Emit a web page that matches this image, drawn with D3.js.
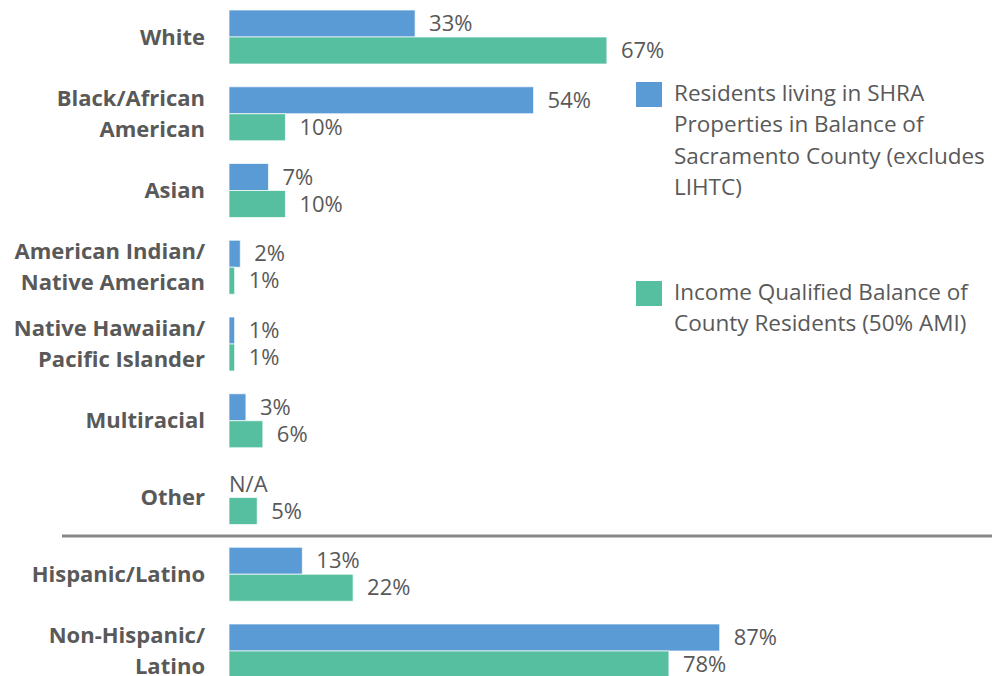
<!DOCTYPE html>
<html>
<head>
<meta charset="utf-8">
<script src="https://cdn.jsdelivr.net/npm/d3@7"></script>
<style>
  html, body { margin: 0; padding: 0; background: #ffffff; }
  svg { display: block; font-family: "Open Sans", "Noto Sans", sans-serif; }
</style>
</head>
<body>
<svg id="chart" width="992" height="676"></svg>
<script>
// Race / ethnicity groups, top to bottom (lines split with "|")
const categories = [
  "White",
  "Black/African|American",
  "Asian",
  "American Indian/|Native American",
  "Native Hawaiian/|Pacific Islander",
  "Multiracial",
  "Other",
  "Hispanic/Latino",
  "Non-Hispanic/|Latino"
];

// Share of each group, in percent (null = not available)
const shraResidents = [33, 54, 7, 2, 1, 3, null, 13, 87];
const incomeQualified = [67, 10, 10, 1, 1, 6, 5, 22, 78];

const seriesNames = [
  "Residents living in SHRA|Properties in Balance of|Sacramento County (excludes|LIHTC)",
  "Income Qualified Balance of|County Residents (50% AMI)"
];
const seriesColors = ["#5b9bd5", "#56bf9f"];

// Race groups end before this index; ethnicity groups follow the divider
const ethnicityStart = 7;

const svg = d3.select("#chart");
const textColor = "#595959";

const x = d3.scaleLinear().domain([0, 100]).range([229, 793]);

const step = 76.75, band = 54;
const pad = 1 - band / step;
const y = d3.scaleBand()
  .domain(d3.range(categories.length))
  .range([-1.375, -1.375 + step * categories.length])
  .paddingInner(pad)
  .paddingOuter(pad / 2);

const ySub = d3.scaleBand().domain([0, 1]).range([0, y.bandwidth()]);

const rows = categories.map((c, i) => ({
  label: c,
  values: [shraResidents[i], incomeQualified[i]]
}));

const groups = svg.append("g").selectAll("g.group")
  .data(rows)
  .join("g")
  .attr("class", "group")
  .attr("transform", (d, i) => `translate(0,${y(i)})`);

// Bars
groups.selectAll("rect")
  .data(d => d.values.map((v, s) => ({ v, s })).filter(e => e.v !== null))
  .join("rect")
  .attr("x", x(0))
  .attr("y", e => ySub(e.s))
  .attr("width", e => x(e.v) - x(0))
  .attr("height", ySub.bandwidth())
  .attr("fill", e => seriesColors[e.s])
  .attr("stroke", "#ffffff")
  .attr("stroke-opacity", 0.7)
  .attr("stroke-width", 1);

// Value labels
groups.selectAll("text.value")
  .data(d => d.values.map((v, s) => ({ v, s })))
  .join("text")
  .attr("class", "value")
  .attr("x", e => e.v === null ? x(0) : x(e.v) + 14)
  .attr("y", e => ySub(e.s) + ySub.bandwidth() / 2)
  .attr("dy", "0.35em")
  .attr("fill", textColor)
  .attr("font-size", 22)
  .text(e => e.v === null ? "N/A" : `${e.v}%`);

// Category labels
const lineH = 31;
groups.append("text")
  .attr("class", "cat")
  .attr("text-anchor", "end")
  .attr("fill", textColor)
  .attr("font-weight", 700)
  .attr("font-size", 22)
  .each(function (d) {
    const lines = d.label.split("|");
    const t = d3.select(this);
    lines.forEach((ln, k) => {
      t.append("tspan")
        .attr("x", 205)
        .attr("y", y.bandwidth() / 2 + (k - (lines.length - 1) / 2) * lineH)
        .attr("dy", "0.35em")
        .text(ln);
    });
  });

// Divider between race and ethnicity groups
const divY = (y(ethnicityStart - 1) + y.bandwidth() + y(ethnicityStart)) / 2;
svg.append("line")
  .attr("x1", 62).attr("x2", 992)
  .attr("y1", divY).attr("y2", divY)
  .attr("stroke", "#888888")
  .attr("stroke-width", 3);

// Legend
const legendTops = [82, 281];
const legend = svg.append("g").selectAll("g")
  .data(seriesNames)
  .join("g")
  .attr("transform", (d, i) => `translate(636,${legendTops[i]})`);

legend.append("rect")
  .attr("width", 26).attr("height", 25)
  .attr("fill", (d, i) => seriesColors[i]);

legend.append("text")
  .attr("fill", textColor)
  .attr("font-size", 22.5)
  .each(function (d) {
    const t = d3.select(this);
    d.split("|").forEach((ln, k) => {
      t.append("tspan")
        .attr("x", 38)
        .attr("y", 11 + k * 31.5)
        .attr("dy", "0.35em")
        .text(ln);
    });
  });
</script>
</body>
</html>
